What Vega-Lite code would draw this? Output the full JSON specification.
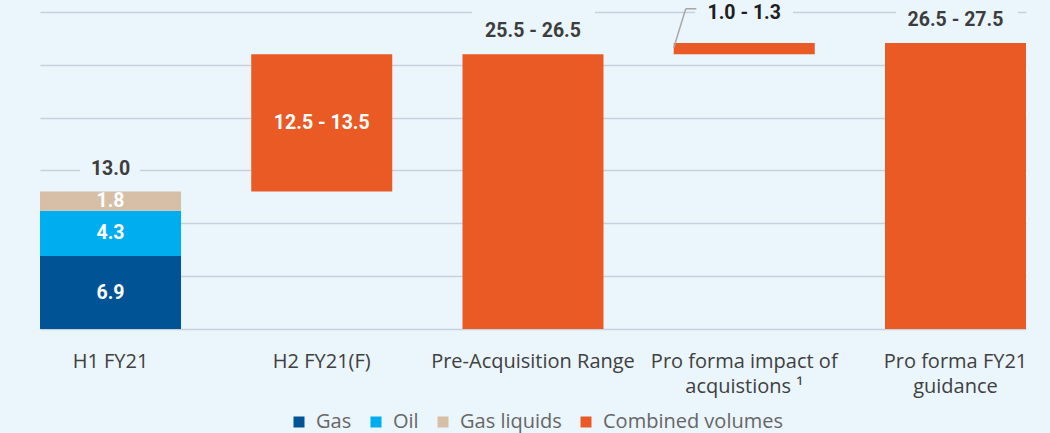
{
  "$schema": "https://vega.github.io/schema/vega-lite/v6.json",
  "width": 1045,
  "height": 329,
  "autosize": {"type": "none"},
  "padding": {"left": 5, "top": 0, "right": 0, "bottom": 104},
  "background": "#ebf5fc",
  "config": {"view": {"stroke": null}, "font": "Open Sans"},
  "datasets": {
    "bars": [
      {"cat": "H1 FY21", "series": "Gas", "start": 0, "end": 6.9, "label": "6.9", "topLabel": null},
      {"cat": "H1 FY21", "series": "Oil", "start": 6.9, "end": 11.2, "label": "4.3", "topLabel": null},
      {"cat": "H1 FY21", "series": "Gas liquids", "start": 11.2, "end": 13.0, "label": "1.8", "topLabel": "13.0"},
      {"cat": "H2 FY21(F)", "series": "Combined volumes", "start": 13.0, "end": 26.0, "label": "12.5 - 13.5", "topLabel": null},
      {"cat": "Pre-Acquisition Range", "series": "Combined volumes", "start": 0, "end": 26.0, "label": null, "topLabel": "25.5 - 26.5"},
      {"cat": "Pro forma impact of|acquistions ¹", "series": "Combined volumes", "start": 26.0, "end": 27.05, "label": null, "topLabel": "1.0 - 1.3"},
      {"cat": "Pro forma FY21|guidance", "series": "Combined volumes", "start": 0, "end": 27.05, "label": null, "topLabel": "26.5 - 27.5"}
    ]
  },
  "data": {"name": "bars"},
  "encoding": {
    "x": {
      "field": "cat",
      "type": "nominal",
      "sort": null,
      "scale": {
        "domain": ["H1 FY21", "H2 FY21(F)", "Pre-Acquisition Range", "Pro forma impact of|acquistions ¹", "Pro forma FY21|guidance"],
        "range": [35, 1021],
        "paddingInner": 0.3325,
        "paddingOuter": 0
      },
      "axis": {
        "title": null,
        "domain": false,
        "ticks": false,
        "labelAngle": 0,
        "labelPadding": 22,
        "labelFontSize": 20,
        "labelColor": "#404040",
        "labelFont": "Open Sans",
        "labelLineHeight": 25,
        "labelLimit": 0,
        "labelExpr": "split(datum.label, '|')"
      }
    }
  },
  "layer": [
    {
      "mark": {"type": "bar"},
      "encoding": {
        "y": {
          "field": "start",
          "type": "quantitative",
          "scale": {"domain": [0, 31.13], "nice": false},
          "axis": {
            "title": null,
            "labels": false,
            "ticks": false,
            "domain": false,
            "grid": true,
            "gridColor": "#c8d1db",
            "gridWidth": 1.5,
            "values": [0, 5, 10, 15, 20, 25, 30]
          }
        },
        "y2": {"field": "end"},
        "color": {
          "field": "series",
          "type": "nominal",
          "scale": {
            "domain": ["Gas", "Oil", "Gas liquids", "Combined volumes"],
            "range": ["#005394", "#00adef", "#d6bea7", "#ea5a25"]
          },
          "legend": {
            "title": null,
            "orient": "none",
            "direction": "horizontal",
            "legendX": 284,
            "legendY": 412,
            "symbolType": "square",
            "symbolSize": 121,
            "symbolStrokeWidth": 0,
            "labelFontSize": 20,
            "labelColor": "#666666",
            "labelFont": "Open Sans",
            "labelOffset": 7,
            "labelLimit": 0,
            "columnPadding": 14,
            "padding": 0
          }
        }
      }
    },
    {
      "mark": {"type": "rect", "color": "#ebf5fc"},
      "encoding": {
        "x": {"datum": "H1 FY21", "bandPosition": 0.284},
        "x2": {"datum": "H1 FY21", "bandPosition": 0.709},
        "y": {"datum": 14.8},
        "y2": {"datum": 15.2}
      }
    },
    {
      "mark": {"type": "rect", "color": "#ebf5fc"},
      "encoding": {
        "x": {"datum": "Pre-Acquisition Range", "bandPosition": 0.07},
        "x2": {"datum": "Pre-Acquisition Range", "bandPosition": 0.936},
        "y": {"datum": 29.8},
        "y2": {"datum": 30.2}
      }
    },
    {
      "mark": {"type": "rect", "color": "#ebf5fc"},
      "encoding": {
        "x": {"datum": "Pro forma impact of|acquistions ¹", "bandPosition": 0.156},
        "x2": {"datum": "Pro forma impact of|acquistions ¹", "bandPosition": 0.844},
        "y": {"datum": 29.8},
        "y2": {"datum": 30.2}
      }
    },
    {
      "mark": {"type": "rect", "color": "#ebf5fc"},
      "encoding": {
        "x": {"datum": "Pro forma FY21|guidance", "bandPosition": 0.078},
        "x2": {"datum": "Pro forma FY21|guidance", "bandPosition": 0.943},
        "y": {"datum": 29.8},
        "y2": {"datum": 30.2}
      }
    },
    {
      "transform": [
        {"filter": "datum.label != null"},
        {"calculate": "(datum.start + datum.end) / 2", "as": "mid"}
      ],
      "mark": {"type": "text", "color": "white", "font": "Roboto", "fontWeight": "bold", "fontSize": 19.5, "baseline": "middle"},
      "encoding": {
        "y": {"field": "mid", "type": "quantitative"},
        "text": {"field": "label"}
      }
    },
    {
      "transform": [
        {"filter": "datum.topLabel != null && datum.cat != 'Pro forma impact of|acquistions ¹'"}
      ],
      "mark": {"type": "text", "color": "#3d3d3d", "font": "Roboto", "fontWeight": "bold", "fontSize": 19.5, "baseline": "middle", "dy": -23},
      "encoding": {
        "y": {"field": "end", "type": "quantitative"},
        "text": {"field": "topLabel"}
      }
    },
    {
      "transform": [
        {"filter": "datum.cat == 'Pro forma impact of|acquistions ¹'"}
      ],
      "mark": {"type": "text", "color": "#1e1e1e", "font": "Roboto", "fontWeight": "bold", "fontSize": 19.5, "baseline": "middle", "dy": -30},
      "encoding": {
        "y": {"field": "end", "type": "quantitative"},
        "text": {"field": "topLabel"}
      }
    },
    {
      "transform": [
        {"filter": "datum.cat == 'Pro forma impact of|acquistions ¹'"}
      ],
      "mark": {"type": "rule", "color": "#a8a8a8", "strokeWidth": 1.5},
      "encoding": {
        "x": {"field": "cat", "type": "nominal", "bandPosition": 0},
        "x2": {"field": "cat", "bandPosition": 0.085},
        "y": {"datum": 26.6},
        "y2": {"datum": 30.3}
      }
    },
    {
      "transform": [
        {"filter": "datum.cat == 'Pro forma impact of|acquistions ¹'"}
      ],
      "mark": {"type": "rule", "color": "#a8a8a8", "strokeWidth": 1.5},
      "encoding": {
        "x": {"field": "cat", "type": "nominal", "bandPosition": 0.085},
        "x2": {"field": "cat", "bandPosition": 0.16},
        "y": {"datum": 30.3}
      }
    }
  ]
}
